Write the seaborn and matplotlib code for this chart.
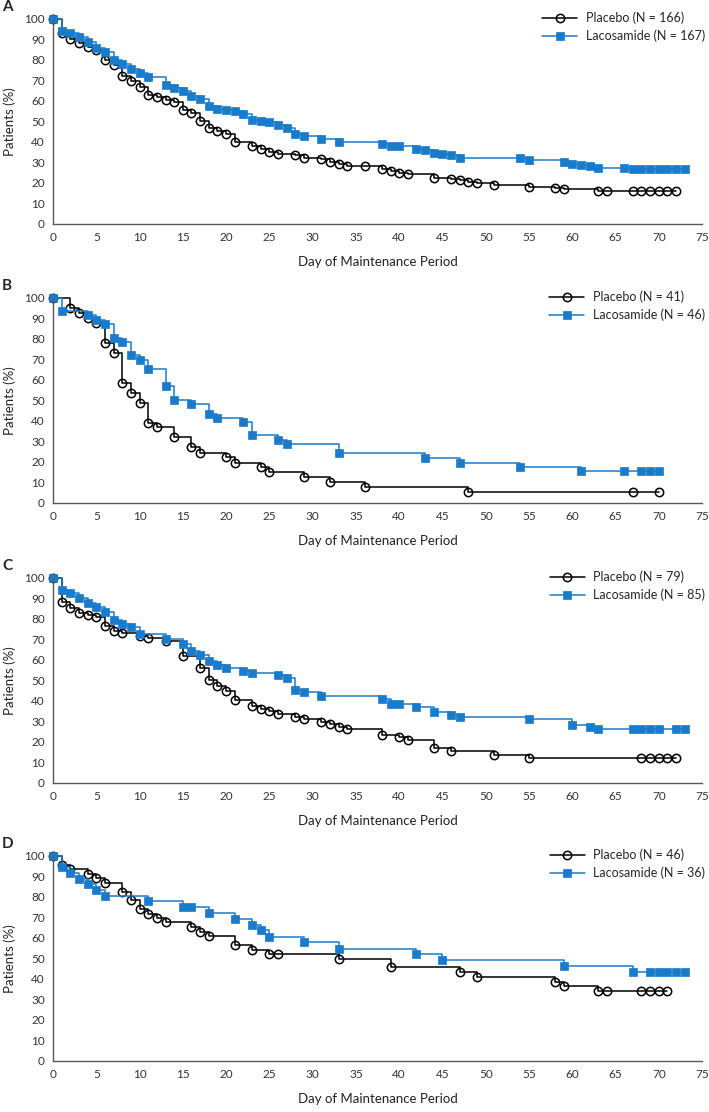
import matplotlib
matplotlib.use('Agg')
import matplotlib.pyplot as plt
import seaborn as sns
import pandas as pd

# Panel A
a_pla_day = [0, 1, 2, 3, 4, 5, 6, 7, 8, 9, 10, 11, 12, 13, 14, 15, 16, 17, 18, 19, 20, 21, 23, 24, 25, 26,
             28, 29, 31, 32, 33, 34, 36, 38, 39, 40, 41, 44, 46, 47, 48, 49, 51, 55, 58, 59, 63, 64,
             67, 68, 69, 70, 71, 72]
a_pla_pct = [100, 93, 90.3, 88.1, 86.4, 84.6, 79.9, 77.4, 72.2, 69.6, 66.6, 63, 61.9, 60.6, 59.4, 55.8,
             54.1, 50.3, 46.8, 45.5, 43.8, 40.1, 37.8, 36.4, 34.9, 33.9, 33.4, 32.3, 31.5, 30.4, 29.2,
             28.4, 28.1, 26.8, 25.6, 24.8, 24.4, 22.6, 21.9, 21.3, 20.6, 20, 18.8, 18, 17.7, 17, 16.2,
             16.2, 16.2, 16.2, 16.2, 16.2, 16.2, 16.2]
a_lac_day = [0, 1, 2, 3, 4, 5, 6, 7, 8, 9, 10, 11, 13, 14, 15, 16, 17, 18, 19, 20, 21, 22, 23, 24, 25, 26,
             27, 28, 29, 31, 33, 38, 39, 40, 42, 43, 44, 45, 46, 47, 54, 55, 59, 60, 61, 62, 63, 66,
             67, 68, 69, 70, 71, 72, 73]
a_lac_pct = [100, 94, 92.9, 91.2, 88.5, 86, 83.8, 80, 78.2, 75.8, 73.7, 71.9, 67.9, 66.4, 64.9, 62.2,
             60.7, 57.6, 56.3, 55.5, 54.9, 53.7, 50.6, 50, 49.5, 48.2, 46.9, 44, 42.7, 41.6, 39.8, 39.1,
             37.8, 37.8, 36.7, 35.9, 34.7, 34.3, 33.8, 32.3, 32, 31.2, 30.4, 29.2, 28.6, 28.1, 27.4,
             27.4, 26.8, 26.8, 26.8, 26.8, 26.8, 26.8, 26.8]

# Panel B
b_pla_day = [0, 2, 3, 4, 5, 6, 7, 8, 9, 10, 11, 12, 14, 16, 17, 20, 21, 24, 25, 29, 32, 36, 48, 67, 70]
b_pla_pct = [100, 95.1, 92.6, 90, 87.7, 78, 73.1, 58.4, 53.6, 48.7, 39.2, 36.9, 32, 27.2, 24.6, 22.3,
             19.7, 17.3, 14.9, 12.5, 10, 7.6, 5.2, 5.2, 5.2]
b_lac_day = [0, 1, 4, 5, 6, 7, 8, 9, 10, 11, 13, 14, 16, 18, 19, 22, 23, 26, 27, 33, 43, 47, 54, 61,
             66, 68, 69, 70]
b_lac_pct = [100, 93.5, 91.6, 89.3, 87.1, 80.6, 78.6, 72, 69.7, 65.4, 56.8, 50.3, 48.1, 43.5, 41.6,
             39.5, 33, 30.6, 28.6, 24.3, 22, 19.7, 17.6, 15.4, 15.4, 15.4, 15.4, 15.4]

# Panel C
c_pla_day = [0, 1, 2, 3, 4, 5, 6, 7, 8, 10, 11, 13, 15, 17, 18, 19, 20, 21, 23, 24, 25, 26, 28, 29,
             31, 32, 33, 34, 38, 40, 41, 44, 46, 51, 55, 68, 69, 70, 71, 72]
c_pla_pct = [100, 88.4, 85.5, 83, 82.1, 81, 76.7, 74.1, 73.1, 71.7, 70.7, 69.2, 61.8, 56.1, 50.1, 47.5,
             44.9, 40.7, 37.4, 35.9, 35.1, 33.5, 32.4, 31.1, 29.9, 28.6, 27.3, 26.1, 23.6, 22.2, 21,
             17.1, 15.8, 13.4, 12.1, 12.1, 12.1, 12.1, 12.1, 12.1]
c_lac_day = [0, 1, 2, 3, 4, 5, 6, 7, 8, 9, 10, 13, 15, 16, 17, 18, 19, 20, 22, 23, 26, 27, 28, 29, 31,
             38, 39, 40, 42, 44, 46, 47, 55, 60, 62, 63, 67, 68, 69, 70, 72, 73]
c_lac_pct = [100, 93.9, 92.6, 90.2, 88, 85.8, 83.2, 79.6, 77.4, 76, 72.7, 70.4, 67.6, 64.2, 62.3, 59.7,
             57.6, 56.3, 54.7, 53.5, 52.5, 51.3, 45.4, 44.3, 42.2, 40.9, 38.3, 38.3, 37.1, 34.8, 33.2,
             32.1, 31, 28.5, 27.3, 26.1, 26.1, 26.1, 26.1, 26.1, 26.1, 26.1]

# Panel D
d_pla_day = [0, 1, 2, 4, 5, 6, 8, 9, 10, 11, 12, 13, 16, 17, 18, 21, 23, 25, 26, 33, 39, 47, 49, 58,
             59, 63, 64, 68, 69, 70, 71]
d_pla_pct = [100, 95.5, 93.6, 91.3, 89.2, 86.9, 82.5, 78.3, 73.9, 71.8, 69.9, 67.6, 65.2, 63.1, 60.9,
             56.5, 54.3, 52.2, 52.2, 49.9, 45.6, 43.3, 41, 38.6, 36.5, 34.2, 34.2, 34.2, 34.2, 34.2, 34.2]
d_lac_day = [0, 1, 2, 3, 4, 5, 6, 11, 15, 16, 18, 21, 23, 24, 25, 29, 33, 42, 45, 59, 67, 69, 70, 71,
             72, 73]
d_lac_pct = [100, 94.6, 91.8, 88.9, 86.3, 83.5, 80.6, 77.8, 75.1, 75.1, 72.2, 69.2, 66.5, 63.7, 60.6,
             57.9, 54.8, 52.1, 49.1, 46.4, 43.4, 43.4, 43.4, 43.4, 43.4, 43.4]

panel_letters = ['A', 'B', 'C', 'D']
n_placebo = [166, 41, 79, 46]
n_lacosamide = [167, 46, 85, 36]
x_ticks = list(range(0, 80, 5))
y_ticks = list(range(0, 110, 10))

panels = [
    (a_pla_day, a_pla_pct, a_lac_day, a_lac_pct),
    (b_pla_day, b_pla_pct, b_lac_day, b_lac_pct),
    (c_pla_day, c_pla_pct, c_lac_day, c_lac_pct),
    (d_pla_day, d_pla_pct, d_lac_day, d_lac_pct),
]

sns.set_style('white')
plt.rcParams['font.family'] = ['Lato', 'DejaVu Sans']

blue = '#1a7bcb'
grey = '#595959'

fig = plt.figure(figsize=(7.09, 11.12), dpi=100)
bottoms = [0.7986, 0.5477, 0.2959, 0.0459]

for i, (pd_, pp, ld, lp) in enumerate(panels):
    ax = fig.add_axes([0.0748, bottoms[i], 0.9154, 0.1844])
    df_p = pd.DataFrame({'day': pd_, 'pct': pp})
    df_l = pd.DataFrame({'day': ld, 'pct': lp})
    sns.lineplot(data=df_p, x='day', y='pct', ax=ax, drawstyle='steps-post', color='black',
                 marker='o', markersize=6, markerfacecolor='none', markeredgecolor='black',
                 markeredgewidth=1.1, linewidth=1.1, clip_on=False,
                 label=f'Placebo (N = {n_placebo[i]})')
    sns.lineplot(data=df_l, x='day', y='pct', ax=ax, drawstyle='steps-post', color=blue,
                 marker='s', markersize=6, markerfacecolor=blue, markeredgecolor=blue,
                 markeredgewidth=0.5, linewidth=1.1, clip_on=False,
                 label=f'Lacosamide (N = {n_lacosamide[i]})')
    ax.set_xlim(0, 75)
    ax.set_ylim(0, 100)
    ax.set_xticks(x_ticks)
    ax.set_yticks(y_ticks)
    ax.set_xlabel('Day of Maintenance Period', fontsize=9.5, color='#222222', labelpad=9)
    ax.set_ylabel('Patients (%)', fontsize=9.5, color='#222222', labelpad=6)
    sns.despine(ax=ax)
    for s in ['left', 'bottom']:
        ax.spines[s].set_color(grey)
        ax.spines[s].set_linewidth(1.0)
    ax.tick_params(axis='x', direction='inout', length=6, width=0.9, color=grey,
                   labelsize=8.5, labelcolor='#333333', pad=3)
    ax.tick_params(axis='y', direction='out', length=4, width=0.9, color=grey,
                   labelsize=8.5, labelcolor='#333333', pad=2)
    ax.legend(loc='upper right', bbox_to_anchor=(1.005, 1.035), frameon=False, fontsize=9,
              handlelength=2.8, handletextpad=0.7, labelspacing=0.45,
              borderpad=0, borderaxespad=0)
    fig.text(0.003, bottoms[i] + 0.1844 + 0.011, panel_letters[i], fontsize=11,
             fontweight='bold', va='center', ha='left')

fig.savefig('out.png', dpi=100)
